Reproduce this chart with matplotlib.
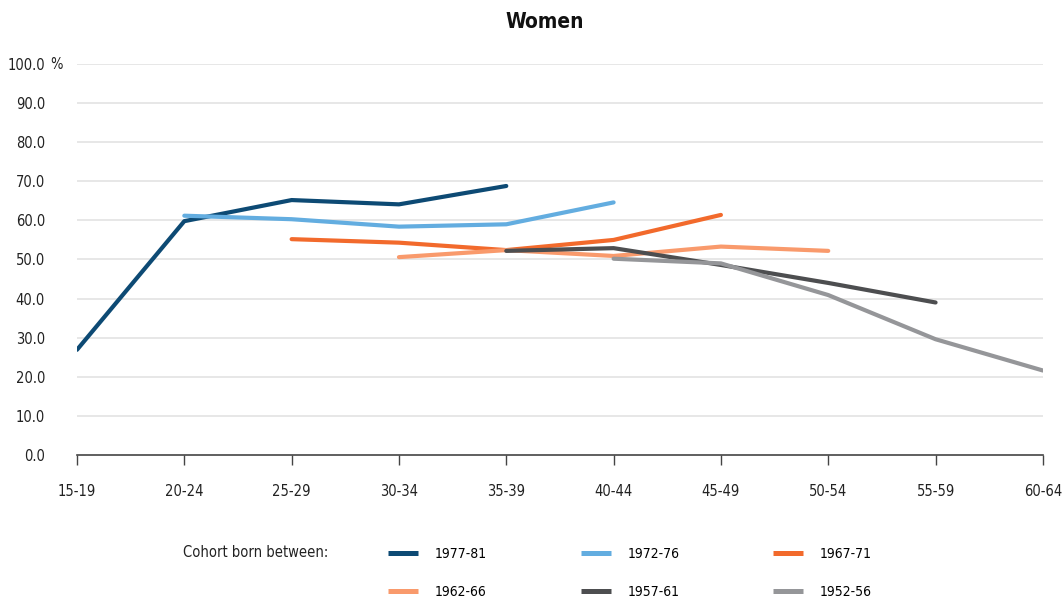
import matplotlib
matplotlib.use("Agg")
import matplotlib.pyplot as plt
from matplotlib.lines import Line2D
import numpy as np

plt.rcParams['font.family'] = ['DejaVu Sans']
plt.rcParams['font.stretch'] = 'condensed'

age_groups = ["15-19", "20-24", "25-29", "30-34", "35-39",
              "40-44", "45-49", "50-54", "55-59", "60-64"]

cohorts = ["1977-81", "1972-76", "1967-71", "1962-66", "1957-61", "1952-56"]

# Employment rate (%) by age group; each cohort starts at a later age group
start_1977_81 = 0
rate_1977_81 = [26.9, 59.8, 65.2, 64.1, 68.8]
start_1972_76 = 1
rate_1972_76 = [61.2, 60.3, 58.4, 59.0, 64.6]
start_1967_71 = 2
rate_1967_71 = [55.2, 54.3, 52.4, 55.0, 61.4]
start_1962_66 = 3
rate_1962_66 = [50.6, 52.4, 50.9, 53.3, 52.2]
start_1957_61 = 4
rate_1957_61 = [52.2, 52.9, 48.6, 44.0, 39.0]
start_1952_56 = 5
rate_1952_56 = [50.2, 49.0, 40.9, 29.6, 21.6]

series = [
    (start_1977_81, rate_1977_81, "#0d4a74"),
    (start_1972_76, rate_1972_76, "#63ade0"),
    (start_1967_71, rate_1967_71, "#f26a2c"),
    (start_1962_66, rate_1962_66, "#f99a6c"),
    (start_1957_61, rate_1957_61, "#4d4e50"),
    (start_1952_56, rate_1952_56, "#959699"),
]

fig = plt.figure(figsize=(10.62, 6.01), dpi=100)
ax = fig.add_axes([0.0725, 0.243, 0.9095, 0.6505])

x_all = np.arange(len(age_groups))
handles = []
for (start, vals, color), label in zip(series, cohorts):
    xs = x_all[start:start + len(vals)]
    line, = ax.plot(xs, vals, color=color, lw=3.0, solid_capstyle='round',
                    solid_joinstyle='round', label=label, zorder=3)
    handles.append(line)

ax.set_xlim(0, len(age_groups) - 1)
ax.set_ylim(0, 100)
yticks = np.arange(0, 101, 10)
ax.set_yticks(yticks)
ax.set_yticklabels([f"{v:.1f}" for v in yticks])
ax.set_xticks(x_all)
ax.set_xticklabels(age_groups)

for y in yticks[1:]:
    ax.axhline(y, color="#e3e3e3", lw=1.2, zorder=1)

for s in ["top", "right", "left"]:
    ax.spines[s].set_visible(False)
ax.spines["bottom"].set_color("#444444")
ax.spines["bottom"].set_linewidth(1.2)

ax.tick_params(axis='y', length=0, pad=23, labelsize=10.5, labelcolor="#222222")
ax.tick_params(axis='x', length=7, width=1, color="#444444", direction='out',
               pad=14, labelsize=10.5, labelcolor="#222222")

# percent sign after the top tick label
ax.annotate("%", xy=(0, 100), xycoords=('axes fraction', 'data'),
            xytext=(-19, 0), textcoords='offset points',
            ha='left', va='center', fontsize=10.5, color="#222222")

fig.text(0.513, 0.963, "Women", ha='center', va='center',
         fontsize=15, fontweight='bold', color="#111111")

fig.text(0.172, 0.08, "Cohort born between:", ha='left', va='center',
         fontsize=10.5, color="#222222")

order = [0, 3, 1, 4, 2, 5]
leg_handles = [Line2D([0], [0], color=handles[i].get_color(), lw=3.6,
                      solid_capstyle='butt')
               for i in order]
leg = fig.legend(leg_handles, [cohorts[i] for i in order], ncol=3,
                 loc='center left', bbox_to_anchor=(0.354, 0.047),
                 frameon=False, fontsize=10, handlelength=2.15,
                 handletextpad=1.2, columnspacing=6.75, labelspacing=1.7)

fig.savefig("out.png", dpi=100)
